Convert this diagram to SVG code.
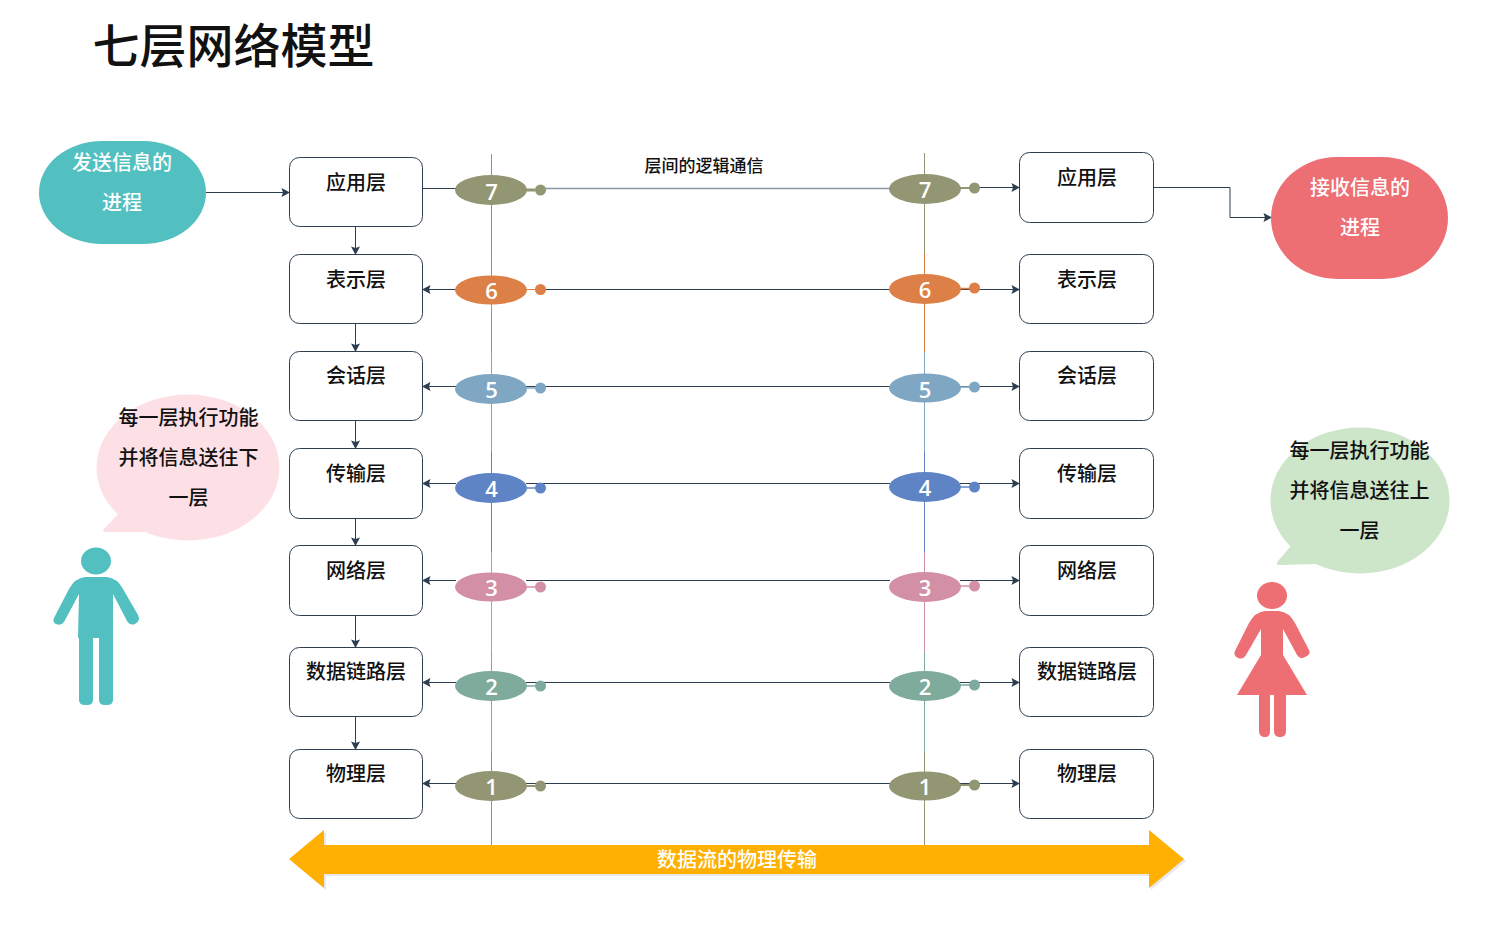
<svg xmlns="http://www.w3.org/2000/svg" width="1500" height="945" viewBox="0 0 1500 945">
<style>
text{font-family:"Noto Sans CJK SC","Noto Sans",sans-serif;text-anchor:middle;dominant-baseline:central}
.box{fill:#fff;stroke:#2c3e50;stroke-width:1}
.lbl{font-size:20px;fill:#111;font-weight:500}
.wht{font-size:20px;fill:#fff;font-weight:500}
.num{font-family:"Open Sans",sans-serif;font-size:22px;fill:#fff;font-weight:600}
.ln{fill:none;stroke:#2c3e50;stroke-width:1}
.arr{marker-end:url(#ah)}
.v{stroke-width:1;fill:none}
</style>
<defs>
<marker id="ah" markerUnits="userSpaceOnUse" markerWidth="10" markerHeight="10" refX="9" refY="5" orient="auto"><path d="M0.500 0.500L9 5L0.500 9.500L2 5Z" fill="#2c3e50"/></marker>
</defs>
<rect width="1500" height="945" fill="#fff"/>
<text id="title" x="233.500" y="42.500" style="font-size:47px;fill:#111;font-weight:500">七层网络模型</text>

<g id="verticals">
<path class="v" stroke="#939672" d="M491.500 154V253M924.500 153V253"/>
<path class="v" stroke="#dd8047" d="M491.500 253V352M924.500 253V352"/>
<path class="v" stroke="#7fa7c4" d="M491.500 352V452M924.500 352V452"/>
<path class="v" stroke="#5f84c6" d="M491.500 452V552M924.500 452V552"/>
<path class="v" stroke="#d28fa5" d="M491.500 552V652M924.500 552V652"/>
<path class="v" stroke="#7eab9b" d="M491.500 652V752M924.500 652V752"/>
<path class="v" stroke="#939672" d="M491.500 752V846M924.500 752V846"/>
</g>

<g id="connectors">
<path class="ln arr" d="M206 192.500H290"/>
<path class="ln arr" d="M1153.500 187.500H1230V217.500H1272"/>
<path class="ln arr" d="M355.500 226.500V255"/>
<path class="ln arr" d="M355.500 323.500V352"/>
<path class="ln arr" d="M355.500 420.500V449"/>
<path class="ln arr" d="M355.500 518.500V546"/>
<path class="ln arr" d="M355.500 615.500V648"/>
<path class="ln arr" d="M355.500 716.500V750"/>
<path class="ln" d="M422.500 188.500H456"/>
<path fill="none" stroke="#8d97a3" stroke-width="1.500" d="M540 188.500H890"/>
<path class="ln arr" d="M960 187.500H1020"/>
<path class="ln arr" d="M456 289.500H422"/><path class="ln" d="M526 289.500H890"/><path class="ln arr" d="M960 289.500H1020"/>
<path class="ln arr" d="M456 386.500H422"/><path class="ln" d="M526 386.500H890"/><path class="ln arr" d="M960 386.500H1020"/>
<path class="ln arr" d="M456 483.500H422"/><path class="ln" d="M526 483.500H890"/><path class="ln arr" d="M960 483.500H1020"/>
<path class="ln arr" d="M456 580.500H422"/><path class="ln" d="M526 580.500H890"/><path class="ln arr" d="M960 580.500H1020"/>
<path class="ln arr" d="M456 682.500H422"/><path class="ln" d="M526 682.500H890"/><path class="ln arr" d="M960 682.500H1020"/>
<path class="ln arr" d="M456 783.500H422"/><path class="ln" d="M526 783.500H890"/><path class="ln arr" d="M960 783.500H1020"/>
</g>

<g id="sender"><rect x="39" y="141" width="167" height="103" rx="63" ry="51.500" fill="#52bfc1"/><text class="wht" x="122" y="161">发送信息的</text><text class="wht" x="122" y="201">进程</text></g>
<g id="receiver"><rect x="1271" y="157" width="177" height="122" rx="66" ry="61" fill="#ed6e73"/><text class="wht" x="1360" y="186">接收信息的</text><text class="wht" x="1360" y="226">进程</text></g>

<g id="l7"><rect class="box" x="289.500" y="157.500" width="133" height="69" rx="10"/><text class="lbl" x="356" y="181.500">应用层</text></g>
<g id="l6"><rect class="box" x="289.500" y="254.500" width="133" height="69" rx="10"/><text class="lbl" x="356" y="278.500">表示层</text></g>
<g id="l5"><rect class="box" x="289.500" y="351.500" width="133" height="69" rx="10"/><text class="lbl" x="356" y="374.500">会话层</text></g>
<g id="l4"><rect class="box" x="289.500" y="448.500" width="133" height="70" rx="10"/><text class="lbl" x="356" y="472.500">传输层</text></g>
<g id="l3"><rect class="box" x="289.500" y="545.500" width="133" height="70" rx="10"/><text class="lbl" x="356" y="569.500">网络层</text></g>
<g id="l2"><rect class="box" x="289.500" y="647.500" width="133" height="69" rx="10"/><text class="lbl" x="356" y="670.500">数据链路层</text></g>
<g id="l1"><rect class="box" x="289.500" y="749.500" width="133" height="69" rx="10"/><text class="lbl" x="356" y="772.500">物理层</text></g>

<g id="r7"><rect class="box" x="1019.500" y="152.500" width="134" height="70" rx="10"/><text class="lbl" x="1087" y="176.500">应用层</text></g>
<g id="r6"><rect class="box" x="1019.500" y="254.500" width="134" height="69" rx="10"/><text class="lbl" x="1087" y="278.500">表示层</text></g>
<g id="r5"><rect class="box" x="1019.500" y="351.500" width="134" height="69" rx="10"/><text class="lbl" x="1087" y="374.500">会话层</text></g>
<g id="r4"><rect class="box" x="1019.500" y="448.500" width="134" height="70" rx="10"/><text class="lbl" x="1087" y="472.500">传输层</text></g>
<g id="r3"><rect class="box" x="1019.500" y="545.500" width="134" height="70" rx="10"/><text class="lbl" x="1087" y="569.500">网络层</text></g>
<g id="r2"><rect class="box" x="1019.500" y="647.500" width="134" height="69" rx="10"/><text class="lbl" x="1087" y="670.500">数据链路层</text></g>
<g id="r1"><rect class="box" x="1019.500" y="749.500" width="134" height="69" rx="10"/><text class="lbl" x="1087" y="772.500">物理层</text></g>

<g id="badge-l7"><path stroke="#939672" stroke-width="3" d="M526 190H535"/><ellipse cx="491" cy="190" rx="36" ry="15" fill="#939672"/><circle cx="540.500" cy="190" r="5.500" fill="#939672"/><text class="num" x="491.500" y="191">7</text></g>
<g id="badge-r7"><path stroke="#939672" stroke-width="2" d="M960 188H970"/><ellipse cx="925" cy="189" rx="36" ry="15" fill="#939672"/><circle cx="974.500" cy="188" r="5.500" fill="#939672"/><text class="num" x="925" y="189">7</text></g>
<g id="badge-l6"><path stroke="#dd8047" stroke-width="1" d="M526 289.500H535"/><ellipse cx="491" cy="290" rx="36" ry="14.500" fill="#dd8047"/><circle cx="540.500" cy="289.500" r="5.500" fill="#dd8047"/><text class="num" x="491.500" y="290">6</text></g>
<g id="badge-r6"><path stroke="#dd8047" stroke-width="1.500" d="M960 288.500H970"/><ellipse cx="925" cy="289" rx="36" ry="15" fill="#dd8047"/><circle cx="974.500" cy="288" r="5.500" fill="#dd8047"/><text class="num" x="925" y="289">6</text></g>
<g id="badge-l5"><path stroke="#7fa7c4" stroke-width="1.500" d="M526 388H535"/><ellipse cx="491" cy="389" rx="36" ry="15" fill="#7fa7c4"/><circle cx="540.500" cy="388" r="5.500" fill="#7fa7c4"/><text class="num" x="491.500" y="389">5</text></g>
<g id="badge-r5"><path stroke="#7fa7c4" stroke-width="1.500" d="M960 387H970"/><ellipse cx="925" cy="388" rx="36" ry="14.500" fill="#7fa7c4"/><circle cx="974.500" cy="387" r="5.500" fill="#7fa7c4"/><text class="num" x="925" y="389">5</text></g>
<g id="badge-l4"><path stroke="#5f84c6" stroke-width="1.500" d="M526 488H535"/><ellipse cx="491" cy="488" rx="36" ry="15" fill="#5f84c6"/><circle cx="540.500" cy="488" r="5.500" fill="#5f84c6"/><text class="num" x="491.500" y="488">4</text></g>
<g id="badge-r4"><path stroke="#5f84c6" stroke-width="1.500" d="M960 487H970"/><ellipse cx="925" cy="487" rx="36" ry="15" fill="#5f84c6"/><circle cx="974.500" cy="487" r="5.500" fill="#5f84c6"/><text class="num" x="925" y="487">4</text></g>
<g id="badge-l3"><path stroke="#d28fa5" stroke-width="1.500" d="M526 587H535"/><ellipse cx="491" cy="587" rx="36" ry="14.500" fill="#d28fa5"/><circle cx="540.500" cy="587" r="5.500" fill="#d28fa5"/><text class="num" x="491.500" y="587">3</text></g>
<g id="badge-r3"><path stroke="#d28fa5" stroke-width="1.500" d="M960 586H970"/><ellipse cx="925" cy="587" rx="36" ry="15" fill="#d28fa5"/><circle cx="974.500" cy="586" r="5.500" fill="#d28fa5"/><text class="num" x="925" y="587">3</text></g>
<g id="badge-l2"><path stroke="#7eab9b" stroke-width="1.500" d="M526 686H535"/><ellipse cx="491" cy="686" rx="36" ry="15" fill="#7eab9b"/><circle cx="540.500" cy="686" r="5.500" fill="#7eab9b"/><text class="num" x="491.500" y="686">2</text></g>
<g id="badge-r2"><path stroke="#7eab9b" stroke-width="1.500" d="M960 685H970"/><ellipse cx="925" cy="686" rx="36" ry="15" fill="#7eab9b"/><circle cx="974.500" cy="685" r="5.500" fill="#7eab9b"/><text class="num" x="925" y="686">2</text></g>
<g id="badge-l1"><path stroke="#939672" stroke-width="2" d="M526 786H535"/><ellipse cx="491" cy="786" rx="36" ry="15" fill="#939672"/><circle cx="540.500" cy="786" r="5.500" fill="#939672"/><text class="num" x="491.500" y="786">1</text></g>
<g id="badge-r1"><path stroke="#939672" stroke-width="2" d="M960 785H970"/><ellipse cx="925" cy="786" rx="36" ry="14.500" fill="#939672"/><circle cx="974.500" cy="785" r="5.500" fill="#939672"/><text class="num" x="925" y="786">1</text></g>

<text id="logic-label" x="704" y="164.500" style="font-size:17px;fill:#111;font-weight:500">层间的逻辑通信</text>

<g id="bubble-left">
<ellipse cx="188" cy="467.500" rx="91.500" ry="73" fill="#fde0e6"/>
<path d="M120 512L104 529Q101 532 106 532H146L150 520Z" fill="#fde0e6"/>
<text class="lbl" x="188.500" y="416">每一层执行功能</text><text class="lbl" x="188.500" y="456">并将信息送往下</text><text class="lbl" x="188.500" y="496">一层</text>
</g>
<g id="bubble-right">
<ellipse cx="1360" cy="500.500" rx="89.500" ry="73" fill="#cde5c8"/>
<path d="M1292 545L1278 561Q1275 565 1280 565L1318 564L1322 550Z" fill="#cde5c8"/>
<text class="lbl" x="1359.500" y="449">每一层执行功能</text><text class="lbl" x="1359.500" y="489">并将信息送往上</text><text class="lbl" x="1359.500" y="529">一层</text>
</g>

<g id="man" fill="#52bfc1">
<ellipse cx="96" cy="561" rx="15" ry="13.500"/>
<path d="M85 577H107Q117 578 123 589L138 615Q141 621 135 624Q130 626 127 621L113 594V700Q113 705 107 705H105Q99 705 99 700V638H93V700Q93 705 87 705H85Q79 705 79 700V638H78L79 594L64 622Q61 626 56 624Q52 622 54 618L69 589Q75 578 85 577Z"/>
</g>
<g id="woman" fill="#ed6e73">
<ellipse cx="1272" cy="595.500" rx="15" ry="13.500"/>
<path d="M1265 611H1279Q1289 612 1295 623L1309 650Q1311 655 1305 657Q1300 660 1297 655L1283 629V655L1307 695H1286V731Q1286 737 1280 737Q1274 737 1274 731V695H1270V731Q1270 737 1265 737Q1259 737 1259 731V695H1237L1261 655V629L1246 655Q1243 660 1238 658Q1233 656 1235 651L1249 623Q1255 612 1265 611Z"/>
</g>

<g id="flow">
<path d="M291 861L326 832V847H1151V832L1186 861L1151 890V876H326V890Z" fill="#e8e8e8"/>
<path d="M289 859L324 830V845H1149V830L1184 859L1149 888V874H324V888Z" fill="#ffb000"/>
<text class="wht" x="737" y="858.500">数据流的物理传输</text>
</g>
</svg>
